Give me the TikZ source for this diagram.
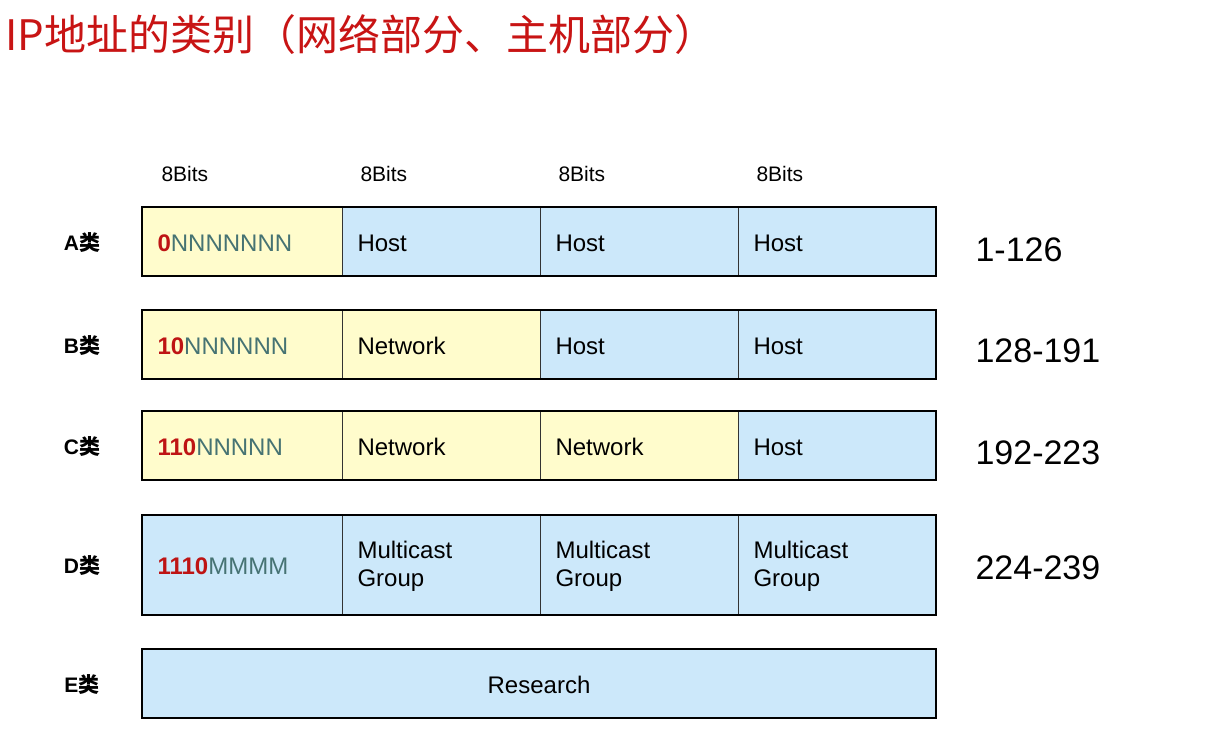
\documentclass[tikz,border=0pt]{standalone}
\usepackage{fontspec}
\setmainfont{Liberation Sans}
\newfontfamily\cjk{Noto Sans CJK SC}
\colorlet{cellyellow}{yellow!20!white}
\definecolor{cellblue}{RGB}{204,232,250}
\definecolor{titlered}{RGB}{200,20,20}
\definecolor{bitred}{RGB}{190,20,20}
\definecolor{bitteal}{RGB}{70,115,115}
\usetikzlibrary{positioning}

\begin{document}
\begin{tikzpicture}[x=1pt,y=-1pt,
    cell/.style={draw=black!80, line width=0.8pt},
    frame/.style={draw=black, line width=2.2pt},
    celltext/.style={anchor=west, font=\fontsize{24}{28}\selectfont, align=left},
    bits/.style={anchor=west, font=\fontsize{21}{24}\selectfont},
    classlabel/.style={anchor=center, font=\bfseries\fontsize{21}{24}\selectfont},
    rangetext/.style={anchor=west, font=\fontsize{34}{38}\selectfont}
    ]
\useasboundingbox[fill=white] (0,0) rectangle (1225,731);

% title
\node[anchor=west, text=titlered, font=\cjk\fontsize{42}{46}\selectfont] (title) at (2,35) {IP地址的类别（网络部分、主机部分）};

% bit headers
\foreach \x [count=\i] in {158,357,555,753}
    \node[bits] (bits\i) at (\x,174) {8Bits};

% cells: class A, B, C
\foreach \r/\ya/\yb/\c/\d/\e in {A/207/276/cellblue/cellblue/cellblue,B/310/379/cellyellow/cellblue/cellblue,C/411/480/cellyellow/cellyellow/cellblue}{
    \fill[cellyellow] (142,\ya) rectangle (342,\yb);
    \fill[\c] (342,\ya) rectangle (540,\yb);
    \fill[\d] (540,\ya) rectangle (738,\yb);
    \fill[\e] (738,\ya) rectangle (936,\yb);
    \draw[cell] (342,\ya) -- (342,\yb) (540,\ya) -- (540,\yb) (738,\ya) -- (738,\yb);
    \draw[frame] (142,\ya) rectangle (936,\yb);
}
% class D
\fill[cellblue] (142,515) rectangle (936,615);
\draw[cell] (342,515) -- (342,615) (540,515) -- (540,615) (738,515) -- (738,615);
\draw[frame] (142,515) rectangle (936,615);
% class E
\fill[cellblue] (142,649) rectangle (936,718);
\draw[frame] (142,649) rectangle (936,718);

% class labels
\node[classlabel] (la) at (82,243) {A{\cjk 类}};
\node[classlabel] (lb) at (82,346) {B{\cjk 类}};
\node[classlabel] (lc) at (82,447) {C{\cjk 类}};
\node[classlabel] (ld) at (82,566) {D{\cjk 类}};
\node[classlabel] (le) at (82,685) {E{\cjk 类}};

% row A
\node[celltext] (a1) at (154,243) {\textcolor{bitred}{\bfseries 0}\textcolor{bitteal}{NNNNNNN}};
\node[celltext] (a2) at (354,243) {Host};
\node[celltext] (a3) at (552,243) {Host};
\node[celltext] (a4) at (750,243) {Host};
% row B
\node[celltext] (b1) at (154,346) {\textcolor{bitred}{\bfseries 10}\textcolor{bitteal}{NNNNNN}};
\node[celltext] (b2) at (354,346) {Network};
\node[celltext] (b3) at (552,346) {Host};
\node[celltext] (b4) at (750,346) {Host};
% row C
\node[celltext] (c1) at (154,447) {\textcolor{bitred}{\bfseries 110}\textcolor{bitteal}{NNNNN}};
\node[celltext] (c2) at (354,447) {Network};
\node[celltext] (c3) at (552,447) {Network};
\node[celltext] (c4) at (750,447) {Host};
% row D
\node[celltext] (d1) at (154,566) {\textcolor{bitred}{\bfseries 1110}\textcolor{bitteal}{MMMM}};
\node[celltext] (d2) at (354,566) {Multicast\\Group};
\node[celltext] (d3) at (552,566) {Multicast\\Group};
\node[celltext] (d4) at (750,566) {Multicast\\Group};
% row E
\node[celltext, anchor=center] (e1) at (539,685) {Research};

% ranges
\node[rangetext] (ra) at (972,250) {1-126};
\node[rangetext] (rb) at (972,351) {128-191};
\node[rangetext] (rc) at (972,453) {192-223};
\node[rangetext] (rd) at (972,568) {224-239};
\end{tikzpicture}
\end{document}
